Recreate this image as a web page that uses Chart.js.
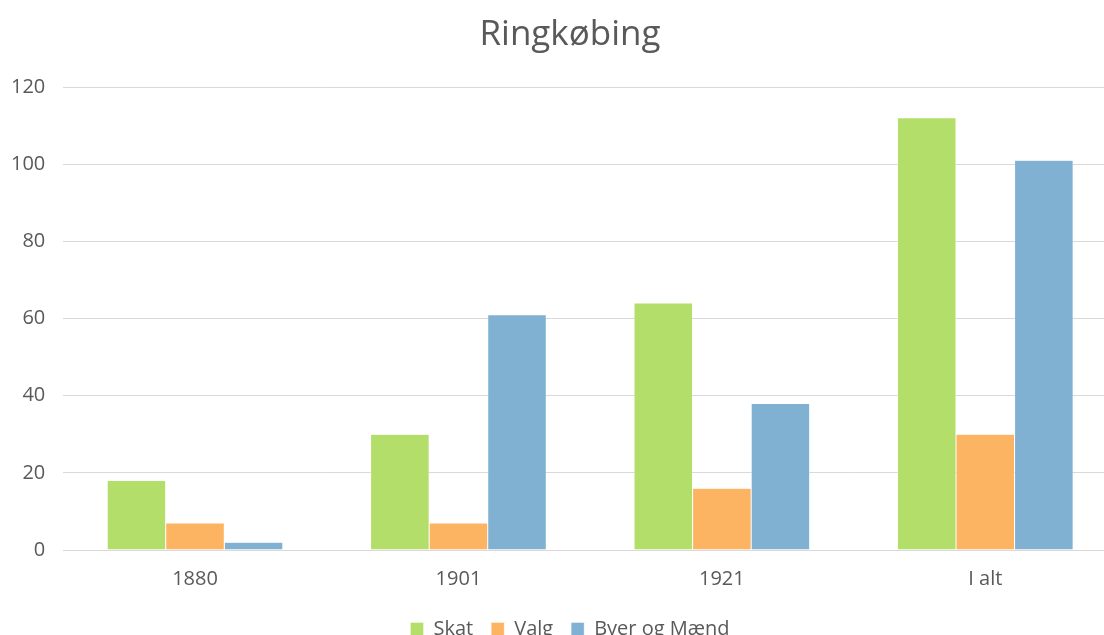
<!DOCTYPE html>
<html>
<head>
<meta charset="utf-8">
<script src="https://cdn.jsdelivr.net/npm/chart.js@4/dist/chart.umd.min.js"></script>
<style>
  html, body { margin:0; padding:0; background:#fff; overflow:hidden; }
  #wrap { position:relative; width:1140px; height:635px; }
</style>
</head>
<body>
<div id="wrap"><canvas id="chart"></canvas></div>
<script>
const categories = ['1880', '1901', '1921', 'I alt'];
const skat = [18, 30, 64, 112];
const valg = [7, 7, 16, 30];
const byerOgMaend = [2, 61, 38, 101];
const yTicks = [0, 20, 40, 60, 80, 100, 120];

const txt = '#595959';
const grid = '#d9d9d9';
const fontFam = '"Open Sans", "DejaVu Sans", sans-serif';

const ds = (label, data, color) => ({
    label, data,
    backgroundColor: color,
    borderColor: '#ffffff',
    borderWidth: { left: 0.5, right: 0.5, top: 0.5, bottom: 0 },
    categoryPercentage: 0.667,
    barPercentage: 1
});

new Chart(document.getElementById('chart'), {
    type: 'bar',
    data: {
        labels: categories,
        datasets: [
            ds('Skat', skat, '#b3de69'),
            ds('Valg', valg, '#fdb462'),
            ds('Byer og Mænd', byerOgMaend, '#80b1d3')
        ]
    },
    options: {
        responsive: true,
        maintainAspectRatio: false,
        animation: false,
        // extra left padding shifts title/legend centre; y axis is narrowed to compensate
        layout: { padding: { left: 23, right: 23, top: 14, bottom: -14 } },
        plugins: {
            title: {
                display: true,
                text: 'Ringkøbing',
                color: txt,
                font: { family: fontFam, size: 35, weight: 'normal' },
                padding: { top: 0, bottom: 31 }
            },
            legend: {
                position: 'bottom',
                labels: {
                    color: txt,
                    font: { family: fontFam, size: 20 },
                    boxWidth: 13, boxHeight: 13,
                    padding: 18
                }
            },
            tooltip: { enabled: false }
        },
        scales: {
            x: {
                grid: { display: false, drawTicks: false },
                border: { color: grid, width: 1 },
                ticks: { color: txt, font: { family: fontFam, size: 20 }, padding: 17 },
                afterFit: (s) => { s.height -= 7; }
            },
            y: {
                min: 0, max: 120,
                afterBuildTicks: (ax) => { ax.ticks = yTicks.map(v => ({ value: v })); },
                grid: { color: grid, lineWidth: 1, drawTicks: false },
                border: { display: false },
                ticks: { color: txt, font: { family: fontFam, size: 20 }, padding: 18 },
                afterFit: (s) => {
                    s.width -= 30;
                    s._computeLabelArea = () => undefined; // labels may overhang the narrowed box
                }
            }
        }
    }
});
</script>
</body>
</html>
